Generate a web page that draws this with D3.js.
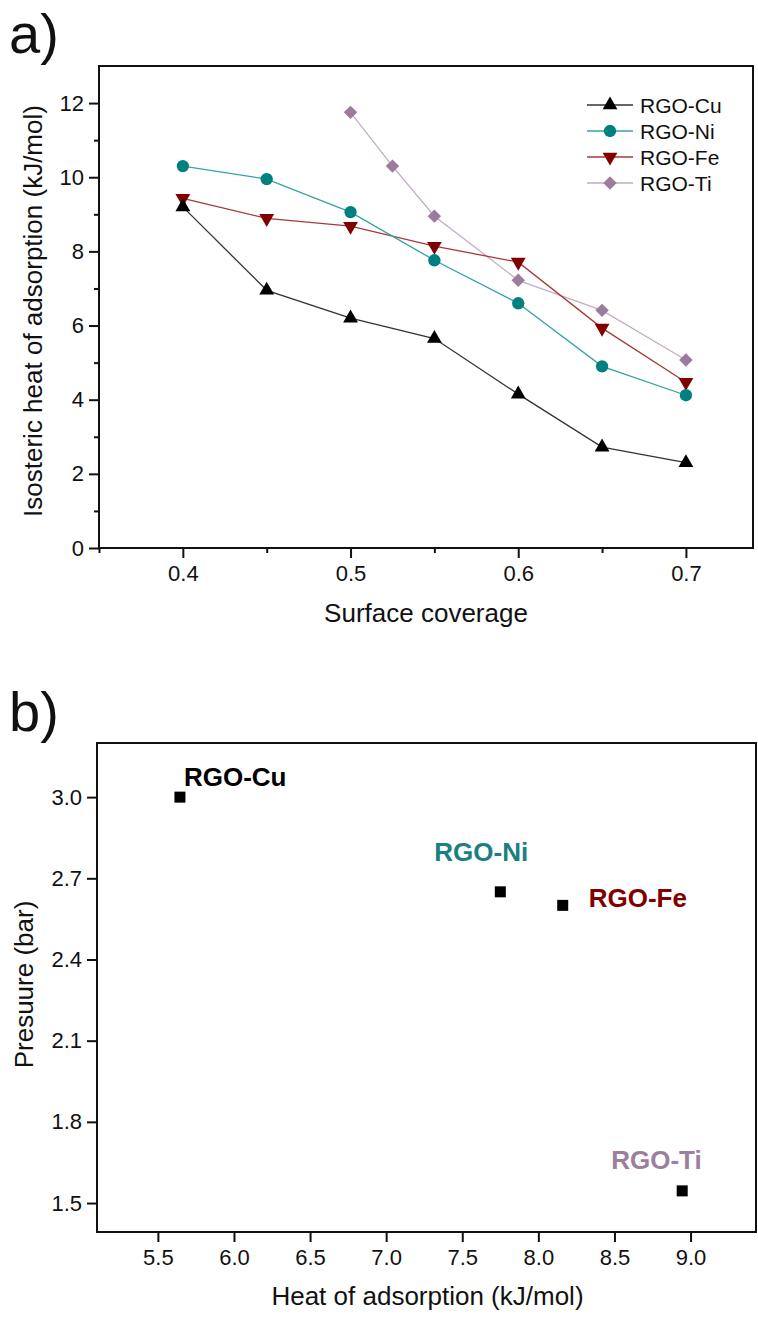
<!DOCTYPE html>
<html>
<head>
<meta charset="utf-8">
<script src="https://cdn.jsdelivr.net/npm/d3@7"></script>
<style>
  body { margin: 0; background: #fff; }
  svg { display: block; font-family: "Liberation Sans", Arial, sans-serif; }
</style>
</head>
<body>
<svg id="chart" width="758" height="1320"></svg>
<script>
// ---- panel a data ----
const coverage = [0.4, 0.45, 0.5, 0.55, 0.6, 0.65, 0.7];
const cuHeat = [9.2, 6.95, 6.2, 5.65, 4.15, 2.72, 2.3];
const niHeat = [10.3, 9.95, 9.06, 7.76, 6.6, 4.9, 4.12];
const feHeat = [9.43, 8.89, 8.68, 8.14, 7.71, 5.93, 4.47];
const tiCoverage = [0.5, 0.525, 0.55, 0.6, 0.65, 0.7];
const tiHeat = [11.75, 10.3, 8.95, 7.22, 6.41, 5.07];
const seriesNames = ["RGO-Cu", "RGO-Ni", "RGO-Fe", "RGO-Ti"];
const xTicksA = [0.4, 0.5, 0.6, 0.7];
const yTicksA = [0, 2, 4, 6, 8, 10, 12];

// ---- panel b data ----
const heatB = [5.645, 7.75, 8.16, 8.945];
const pressureB = [3.0, 2.65, 2.6, 1.545];
const xTicksB = [5.5, 6.0, 6.5, 7.0, 7.5, 8.0, 8.5, 9.0];
const yTicksB = [1.5, 1.8, 2.1, 2.4, 2.7, 3.0];

const svg = d3.select("#chart");

// styling per series
const styles = [
  { marker: "#000000", line: "#333333", sym: d3.symbolTriangle, size: 95, rot: 0 },
  { marker: "#008080", line: "#33a3a3", sym: d3.symbolCircle, size: 120, rot: 0 },
  { marker: "#800000", line: "#a53a3a", sym: d3.symbolTriangle, size: 95, rot: 180 },
  { marker: "#9b7c9c", line: "#c4adc5", sym: d3.symbolSquare, size: 90, rot: 45 }
];

function styleAxis(g) {
  g.attr("font-family", null);
  g.select(".domain").remove();
  g.selectAll(".tick line").attr("stroke", "#111").attr("stroke-width", 2);
  g.selectAll(".tick text").attr("fill", "#111").style("font-size", "22px");
}

// ================= panel a =================
const A = { left: 99, top: 66, right: 753, bottom: 548 };
const xA = d3.scaleLinear().domain([0.35, 0.74]).range([A.left, A.right]);
const yA = d3.scaleLinear().domain([0, 13]).range([A.bottom, A.top]);

// minor ticks
svg.append("g").attr("transform", `translate(0,${A.bottom})`)
  .call(d3.axisBottom(xA).tickValues([0.35, 0.45, 0.55, 0.65]).tickSize(5).tickFormat(""))
  .call(styleAxis);
svg.append("g").attr("transform", `translate(${A.left},0)`)
  .call(d3.axisLeft(yA).tickValues([1, 3, 5, 7, 9, 11]).tickSize(5).tickFormat(""))
  .call(styleAxis);
// major ticks
svg.append("g").attr("transform", `translate(0,${A.bottom})`)
  .call(d3.axisBottom(xA).tickValues(xTicksA).tickSize(10).tickPadding(7).tickFormat(d3.format(".1f")))
  .call(styleAxis);
svg.append("g").attr("transform", `translate(${A.left},0)`)
  .call(d3.axisLeft(yA).tickValues(yTicksA).tickSize(10).tickPadding(5).tickFormat(d3.format("d")))
  .call(styleAxis);

svg.append("rect")
  .attr("x", A.left).attr("y", A.top)
  .attr("width", A.right - A.left).attr("height", A.bottom - A.top)
  .attr("fill", "none").attr("stroke", "#111").attr("stroke-width", 2);

const seriesA = [
  coverage.map((c, i) => [c, cuHeat[i]]),
  coverage.map((c, i) => [c, niHeat[i]]),
  coverage.map((c, i) => [c, feHeat[i]]),
  tiCoverage.map((c, i) => [c, tiHeat[i]])
];

const lineA = d3.line().x(d => xA(d[0])).y(d => yA(d[1]));

// draw in reverse order so Cu is on top
[3, 2, 1, 0].forEach(k => {
  const st = styles[k];
  svg.append("path")
    .attr("d", lineA(seriesA[k]))
    .attr("fill", "none")
    .attr("stroke", st.line)
    .attr("stroke-width", 1.3);
  svg.append("g").selectAll("path")
    .data(seriesA[k])
    .join("path")
    .attr("d", d3.symbol().type(st.sym).size(st.size))
    .attr("transform", d => `translate(${xA(d[0])},${yA(d[1])}) rotate(${st.rot})`)
    .attr("fill", st.marker);
});

// legend
const legend = svg.append("g").attr("transform", "translate(587,105)");
seriesNames.forEach((name, i) => {
  const st = styles[i];
  const row = legend.append("g").attr("transform", `translate(0,${i * 26})`);
  row.append("line").attr("x1", 0).attr("x2", 46).attr("y1", 0).attr("y2", 0)
    .attr("stroke", st.line).attr("stroke-width", 1.3);
  row.append("path")
    .attr("d", d3.symbol().type(st.sym).size(st.size))
    .attr("transform", `translate(23,0) rotate(${st.rot})`)
    .attr("fill", st.marker);
  row.append("text").attr("x", 53).attr("y", 7.5)
    .style("font-size", "21px").attr("fill", "#111").text(name);
});

svg.append("text").attr("x", (A.left + A.right) / 2).attr("y", 622)
  .attr("text-anchor", "middle").style("font-size", "26px").attr("fill", "#111")
  .text("Surface coverage");
svg.append("text")
  .attr("transform", `translate(42,${(A.top + A.bottom) / 2 + 4}) rotate(-90)`)
  .attr("text-anchor", "middle").style("font-size", "26px").attr("fill", "#111")
  .text("Isosteric heat of adsorption (kJ/mol)");
svg.append("text").attr("x", 9).attr("y", 53)
  .style("font-size", "56px").attr("fill", "#111").text("a)");

// ================= panel b =================
const B = { left: 97, top: 743, right: 756, bottom: 1232 };
const xB = d3.scaleLinear().domain([5.1, 9.43]).range([B.left, B.right]);
const yB = d3.scaleLinear().domain([1.393, 3.2]).range([B.bottom, B.top]);

svg.append("g").attr("transform", `translate(0,${B.bottom})`)
  .call(d3.axisBottom(xB).tickValues(xTicksB).tickSize(10).tickPadding(7).tickFormat(d3.format(".1f")))
  .call(styleAxis);
svg.append("g").attr("transform", `translate(${B.left},0)`)
  .call(d3.axisLeft(yB).tickValues(yTicksB).tickSize(10).tickPadding(5).tickFormat(d3.format(".1f")))
  .call(styleAxis);

svg.append("rect")
  .attr("x", B.left).attr("y", B.top)
  .attr("width", B.right - B.left).attr("height", B.bottom - B.top)
  .attr("fill", "none").attr("stroke", "#111").attr("stroke-width", 2);

svg.append("g").selectAll("rect")
  .data(heatB.map((h, i) => [h, pressureB[i]]))
  .join("rect")
  .attr("x", d => xB(d[0]) - 5.5).attr("y", d => yB(d[1]) - 5.5)
  .attr("width", 11).attr("height", 11)
  .attr("fill", "#000");

// point labels: offsets in pixels from each point
const labelColors = ["#000000", "#1a8080", "#800000", "#9b7f9c"];
const labelOffsets = [[4, -11], [-66, -31], [26, 2], [-71, -22]];
seriesNames.forEach((name, i) => {
  svg.append("text")
    .attr("x", xB(heatB[i]) + labelOffsets[i][0])
    .attr("y", yB(pressureB[i]) + labelOffsets[i][1])
    .style("font-size", "26px").style("font-weight", "bold")
    .attr("fill", labelColors[i]).text(name);
});

svg.append("text").attr("x", (B.left + B.right) / 2 + 1).attr("y", 1305)
  .attr("text-anchor", "middle").style("font-size", "26px").attr("fill", "#111")
  .text("Heat of adsorption (kJ/mol)");
svg.append("text")
  .attr("transform", `translate(33,${(B.top + B.bottom) / 2 - 3}) rotate(-90)`)
  .attr("text-anchor", "middle").style("font-size", "26px").attr("fill", "#111")
  .text("Presuure (bar)");
svg.append("text").attr("x", 9).attr("y", 731)
  .style("font-size", "56px").attr("fill", "#111").text("b)");
</script>
</body>
</html>
